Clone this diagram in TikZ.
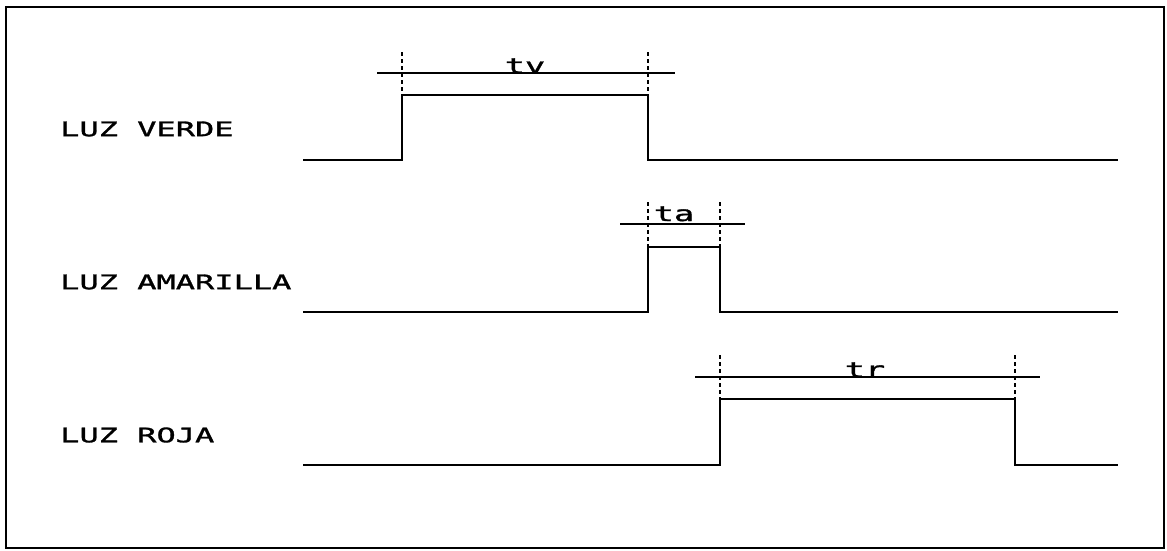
\documentclass[tikz,border=0pt]{standalone}
\usepackage{fontspec}
\newfontfamily\plotfont[FakeStretch=1.6,FakeBold=1.5]{DejaVu Sans Mono}
\begin{document}
\begin{tikzpicture}[x=1pt,y=-1pt,
  wave/.style={line width=2pt,line join=miter},
  dimline/.style={line width=2pt},
  ext/.style={line width=1.3pt,dash pattern=on 4pt off 3pt},
  lbl/.style={font=\plotfont\fontsize{20}{20}\selectfont,anchor=west,inner sep=0pt},
  tlbl/.style={font=\plotfont\fontsize{21}{21}\selectfont,anchor=base,inner sep=0pt}]
\useasboundingbox (0,0) rectangle (1167,550);
\draw[line width=2pt] (6,7) rectangle (1164,548);
% labels
\node[lbl] (lv) at (60,129) {LUZ VERDE};
\node[lbl] (la) at (60,282) {LUZ AMARILLA};
\node[lbl] (lr) at (60,435) {LUZ ROJA};
% green
\coordinate (g0) at (303,160); \coordinate (g1) at (402,160);
\coordinate (g2) at (402,95); \coordinate (g3) at (648,95);
\coordinate (g4) at (648,160); \coordinate (g5) at (1118,160);
\draw[wave] (g0) -- (g1) -- (g2) -- (g3) -- (g4) -- (g5);
\coordinate (tvA) at (377,73); \coordinate (tvB) at (675,73);
\draw[dimline] (tvA) -- (tvB);
\coordinate (tvd1) at (402,52); \coordinate (tvd2) at (648,52);
\draw[ext] (tvd1) -- (g2);
\draw[ext] (tvd2) -- (g3);
\node[tlbl] (tv) at (525,73) {tv};
% yellow
\coordinate (a0) at (303,312); \coordinate (a1) at (648,312);
\coordinate (a2) at (648,247); \coordinate (a3) at (720,247);
\coordinate (a4) at (720,312); \coordinate (a5) at (1118,312);
\draw[wave] (a0) -- (a1) -- (a2) -- (a3) -- (a4) -- (a5);
\coordinate (taA) at (620,224); \coordinate (taB) at (745,224);
\draw[dimline] (taA) -- (taB);
\coordinate (tad1) at (648,202); \coordinate (tad2) at (720,202);
\draw[ext] (tad1) -- (a2);
\draw[ext] (tad2) -- (a3);
\node[tlbl] (ta) at (674,221) {ta};
% red
\coordinate (r0) at (303,465); \coordinate (r1) at (720,465);
\coordinate (r2) at (720,399); \coordinate (r3) at (1015,399);
\coordinate (r4) at (1015,465); \coordinate (r5) at (1118,465);
\draw[wave] (r0) -- (r1) -- (r2) -- (r3) -- (r4) -- (r5);
\coordinate (trA) at (695,377); \coordinate (trB) at (1040,377);
\draw[dimline] (trA) -- (trB);
\coordinate (trd1) at (720,355); \coordinate (trd2) at (1015,355);
\draw[ext] (trd1) -- (r2);
\draw[ext] (trd2) -- (r3);
\node[tlbl] (tr) at (865,377) {tr};
\end{tikzpicture}
\end{document}
